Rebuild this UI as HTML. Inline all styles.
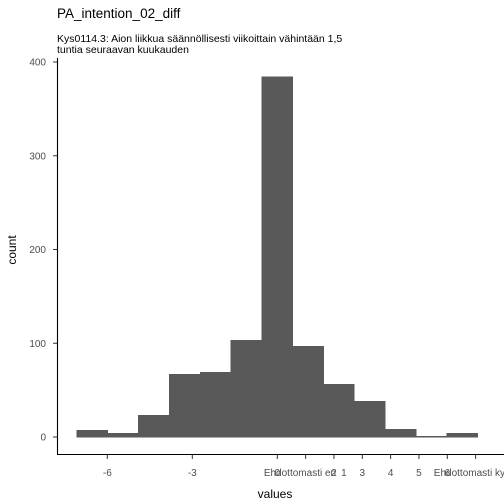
<!DOCTYPE html>
<html><head><meta charset="utf-8"><style>
body{margin:0;background:#fff;}
svg{display:block;font-family:"Liberation Sans",Arial,sans-serif;}
</style></head><body>
<svg id="chart" width="504" height="504" viewBox="0 0 504 504">
<text x="57" y="18" font-size="13.5" fill="#000">PA_intention_02_diff</text>
<text x="57" y="42" font-size="10.5" fill="#000">Kys0114.3: Aion liikkua säännöllisesti viikoittain vähintään 1,5</text>
<text x="57" y="53" font-size="10.5" fill="#000">tuntia seuraavan kuukauden</text>
<g id="bars"></g>
<g id="yaxis"></g>
<g id="xaxis"></g>
<line x1="57.5" y1="58" x2="57.5" y2="454.5" stroke="#000" stroke-width="1.1"/>
<line x1="57" y1="454.5" x2="504" y2="454.5" stroke="#000" stroke-width="1.1"/>
<text transform="translate(16,250) rotate(-90)" text-anchor="middle" font-size="12" fill="#000">count</text>
<text x="275" y="498" text-anchor="middle" font-size="12" fill="#000">values</text>
</svg>
<script>
const binStart = -7.08;
const binWidth = 1.089;
const counts = [7, 4, 23, 67, 69, 103, 384, 97, 56, 38, 8, 1, 4];
const yTicks = [0, 100, 200, 300, 400];
const xTickValues = [-6, -3, 0, 1, 2, 3, 4, 5, 6, 7];
const xLabelValues = [-6, -3, 0, 2, 2.35, 3, 4, 5, 6];
const xLabelTexts = ["-6", "-3", "0", "2", "1", "3", "4", "5", "6"];
const xTextLabelValues = [0.8, 6.78];
const xTextLabelTexts = ["Ehdottomasti en", "Ehdottomasti ky"];

const NS = "http://www.w3.org/2000/svg";
const xs = v => 277.3 + 28.33 * v;
const ys = c => 437 - c * 0.9375;

const bars = document.getElementById('bars');
counts.forEach((c, i) => {
  const x0 = xs(binStart + i * binWidth), x1 = xs(binStart + (i + 1) * binWidth);
  const r = document.createElementNS(NS, 'rect');
  
  
  r.setAttribute('x', x0); r.setAttribute('width', x1 - x0);
  r.setAttribute('y', ys(c)); r.setAttribute('height', ys(0) - ys(c));
  r.setAttribute('fill', '#595959');
  r.setAttribute('stroke', '#595959');
  r.setAttribute('stroke-width', '0.6');
  r.setAttribute('shape-rendering', 'crispEdges');
  bars.appendChild(r);
});

const ya = document.getElementById('yaxis');
yTicks.forEach(t => {
  const l = document.createElementNS(NS, 'line');
  
  
  l.setAttribute('x1', 53); l.setAttribute('x2', 57.5);
  l.setAttribute('y1', ys(t)); l.setAttribute('y2', ys(t));
  l.setAttribute('stroke', '#333');
  ya.appendChild(l);
  const tx = document.createElementNS(NS, 'text');
  
  
  tx.setAttribute('x', 46); tx.setAttribute('y', ys(t) + 3.5);
  tx.setAttribute('text-anchor', 'end'); tx.setAttribute('font-size', '10');
  tx.setAttribute('fill', '#4d4d4d');
  tx.textContent = t;
  ya.appendChild(tx);
});

const xa = document.getElementById('xaxis');
xTickValues.forEach(v => {
  const l = document.createElementNS(NS, 'line');
  
  
  l.setAttribute('x1', xs(v)); l.setAttribute('x2', xs(v));
  l.setAttribute('y1', 454.5); l.setAttribute('y2', 459);
  l.setAttribute('stroke', '#333');
  xa.appendChild(l);
});
xLabelValues.forEach((v, i) => {
  const tx = document.createElementNS(NS, 'text');
  
  
  tx.setAttribute('x', xs(v)); tx.setAttribute('y', 476);
  tx.setAttribute('text-anchor', 'middle'); tx.setAttribute('font-size', '10');
  tx.setAttribute('fill', '#4d4d4d');
  tx.textContent = xLabelTexts[i];
  xa.appendChild(tx);
});
xTextLabelValues.forEach((v, i) => {
  const tx = document.createElementNS(NS, 'text');
  
  
  tx.setAttribute('x', xs(v)); tx.setAttribute('y', 476);
  tx.setAttribute('text-anchor', 'middle'); tx.setAttribute('font-size', '10');
  tx.setAttribute('fill', '#4d4d4d');
  tx.textContent = xTextLabelTexts[i];
  xa.appendChild(tx);
});
</script>
</body></html>
